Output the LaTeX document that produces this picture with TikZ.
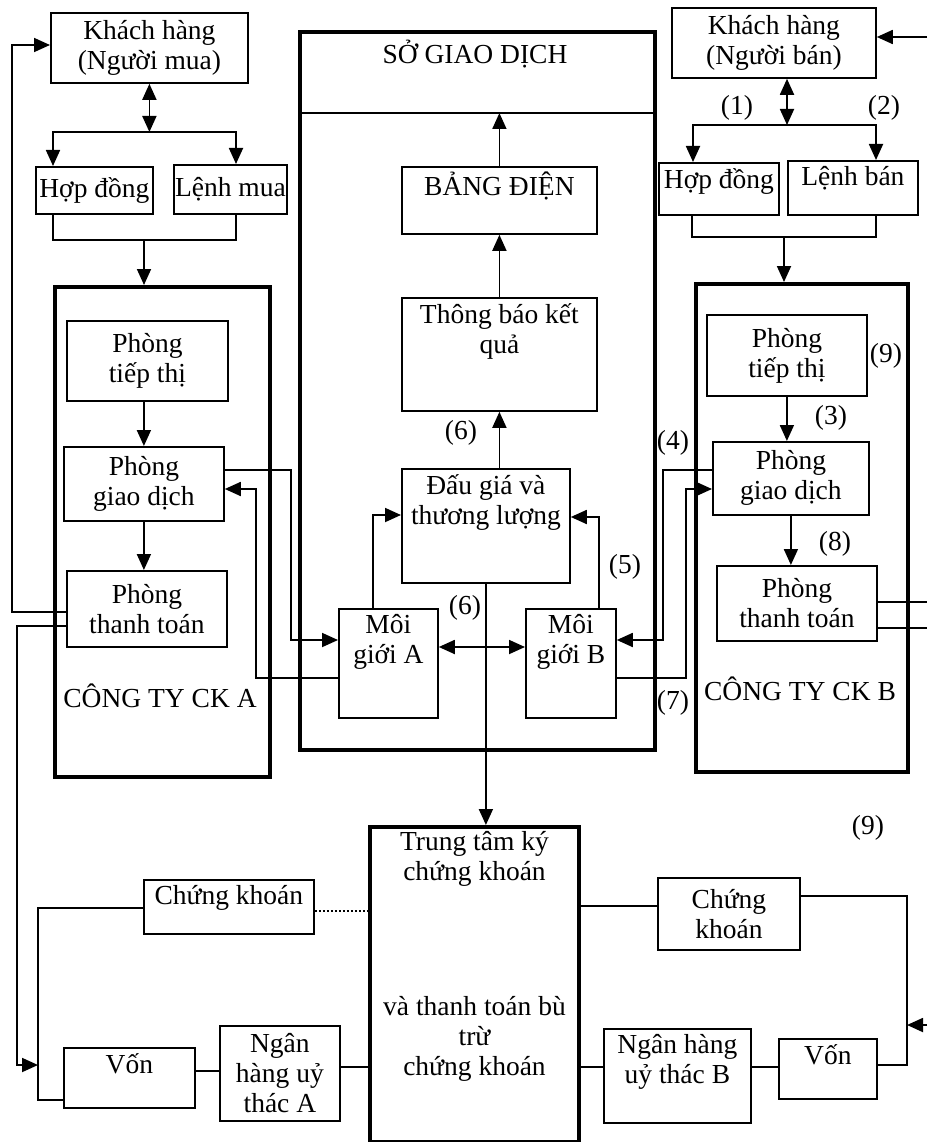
\documentclass[tikz,border=0pt]{standalone}
\usepackage{fontspec}
\setmainfont{Liberation Serif}
\usetikzlibrary{arrows.meta}
\tikzset{
  every node/.style = {font = \fontsize{27.5}{30}\selectfont}
}
\tikzset{
    >={Triangle[length=16pt,width=14pt]}
}
\tikzset{
  link/.style = {line width=1.8pt},
  box/.style = {draw, line width=1.8pt, align=center, anchor=north west, inner sep=0pt},
  panel/.style = {draw, line width=4pt, anchor=north west, inner sep=0pt},
  dims/.style 2 args = {minimum width=#1pt, minimum height=#2pt},
  toptext/.style = {label={[anchor=north, align=center, inner sep=6pt]north:#1}}
}

\begin{document}
\begin{tikzpicture}[x=1pt, y=-1pt]
  \useasboundingbox (0,0) rectangle (927,1142);

  % Buyer side
  \node[box, dims={197}{70}] (custA) at (50,12) {Khách hàng\\(Người mua)};
  \node[box, dims={117}{47}] (contractA) at (35,166) {Hợp đồng};
  \node[box, dims={113}{49}] (orderA) at (173,164) {Lệnh mua};
  \node[panel, dims={215}{490}] (firmA) at (53,285) {};
  \node[box, dims={161}{80}] (mktA) at (66,320) {Phòng\\tiếp thị};
  \node[box, dims={160}{74}] (pgdA) at (63,446) {Phòng\\giao dịch};
  \node[box, dims={160}{76}] (pttA) at (66,570) {Phòng\\thanh toán};
  \node (firmAname) at (160,696) {CÔNG TY CK A};

  % Exchange
  \node[panel, dims={355}{718}] (sgd) at (298,30) {};
  \node (sgdname) at (475,54) {SỞ GIAO DỊCH};
  \node[box, dims={195}{67}, toptext={BẢNG ĐIỆN}] (board) at (401,166) {};
  \node[box, dims={195}{113}, toptext={Thông báo kết\\quả}] (result) at (401,297) {};
  \node[box, dims={168}{114}, toptext={Đấu giá và\\thương lượng}] (auction) at (401,468) {};
  \node[box, dims={99}{109}, toptext={Môi\\giới A}] (brokerA) at (338,608) {};
  \node[box, dims={90}{109}, toptext={Môi\\giới B}] (brokerB) at (525,608) {};

  % Seller side
  \node[box, dims={204}{70}] (custB) at (671,7) {Khách hàng\\(Người bán)};
  \node[box, dims={120}{52}, toptext={Hợp đồng}] (contractB) at (658,162) {};
  \node[box, dims={130}{54}, toptext={Lệnh bán}] (orderB) at (787,160) {};
  \node[panel, dims={212}{488}] (firmB) at (694,282) {};
  \node[box, dims={160}{81}] (mktB) at (706,314) {Phòng\\tiếp thị};
  \node[box, dims={156}{73}] (pgdB) at (712,441) {Phòng\\giao dịch};
  \node[box, dims={160}{75}] (pttB) at (716,565) {Phòng\\thanh toán};
  \node (firmBname) at (800,689) {CÔNG TY CK B};

  % Clearing and banks
  \node[panel, dims={209}{315}, toptext={Trung tâm ký\\chứng khoán\\[105pt]và thanh toán bù\\trừ\\chứng khoán}] (clear) at (368,825) {};
  \node[box, dims={170}{54}, toptext={Chứng khoán}] (secA) at (143,879) {};
  \node[box, dims={131}{60}, toptext={Vốn}] (capA) at (63,1047) {};
  \node[box, dims={120}{95}] (bankA) at (219,1025) {Ngân\\hàng uỷ\\thác A};
  \node[box, dims={142}{72}] (secB) at (657,877) {Chứng\\khoán};
  \node[box, dims={147}{94}, toptext={Ngân hàng\\uỷ thác B}] (bankB) at (603,1028) {};
  \node[box, dims={98}{60}, toptext={Vốn}] (capB) at (778,1038) {};

  % Step numbers
  \node (lbl1) at (737,108) {(1)};
  \node (lbl2) at (884,108) {(2)};
  \node (lbl9a) at (886,356) {(9)};
  \node (lbl3) at (831,418) {(3)};
  \node (lbl4) at (673,443) {(4)};
  \node (lbl8) at (835,544) {(8)};
  \node (lbl7) at (673,703) {(7)};
  \node (lbl5) at (625,567) {(5)};
  \node (lbl6a) at (461,433) {(6)};
  \node (lbl6b) at (465,608) {(6)};
  \node (lbl9b) at (868,828) {(9)};

  \coordinate (edgeT) at (927,37);
  \coordinate (edgeP1) at (927,602);
  \coordinate (edgeP2) at (927,628);
  \coordinate (edgeV) at (927,1025);
  \coordinate (joinA) at (38,1065);
  \coordinate (joinB) at (907,1025);

  % Buyer side links
  \draw[link,<->] (custA.south) -- (custA.south |- 0,132);
  \draw[link,<->] (contractA.north -| 53,0) |- (236,132) -- (orderA.north -| 236,0);
  \draw[link] (contractA.south -| 53,0) -- (53,240) -- (236,240) -- (orderA.south -| 236,0);
  \draw[link,->] (144,240) -- (firmA.north -| 144,0);
  \draw[link,->] (mktA.south -| pgdA.north) -- (pgdA.north);
  \draw[link,->] (pgdA.south) -- (pgdA.south |- pttA.north);
  \draw[link,->] (pttA.west |- 0,612) -| (12,45) -- (custA.west |- 0,45);
  \draw[link,->] (pttA.west |- 0,626) -| (17,1065) -- (joinA);

  % Exchange links
  \draw[link] (sgd.west |- 0,113) -- (sgd.east |- 0,113);
  \draw[link,->] (board.north) -- (board.north |- 0,113);
  \draw[link,->] (result.north) -- (board.south);
  \draw[link,->] (auction.north -| result.north) -- (result.south);
  \draw[link,->] (auction.south) -- (auction.south |- clear.north);
  \draw[link,->] (brokerA.north -| 373,0) |- (auction.west |- 0,515);
  \draw[link,->] (brokerB.north -| 599,0) |- (auction.east |- 0,517);
  \draw[link,<->] (brokerA.east |- 0,647) -- (brokerB.west |- 0,647);
  \draw[link,->] (pgdA.east |- 0,470) -| (291,640) -- (brokerA.west |- 0,640);
  \draw[link,->] (brokerA.west |- 0,678) -| (256,489) -- (pgdA.east |- 0,489);
  \draw[link,->] (pgdB.west |- 0,470) -| (663,640) -- (brokerB.east |- 0,640);
  \draw[link,->] (brokerB.east |- 0,678) -| (686,489) -- (pgdB.west |- 0,489);

  % Seller side links
  \draw[link,->] (edgeT) -- (custB.east |- edgeT);
  \draw[link,<->] (custB.south -| 787,0) -- (787,125);
  \draw[link,<->] (contractB.north -| 693,0) |- (876,125) -- (orderB.north -| 876,0);
  \draw[link] (contractB.south -| 692,0) -- (692,237) -- (876,237) -- (orderB.south -| 876,0);
  \draw[link,->] (784,237) -- (firmB.north -| 784,0);
  \draw[link,->] (mktB.south) -- (mktB.south |- pgdB.north);
  \draw[link,->] (pgdB.south) -- (pgdB.south |- pttB.north);
  \draw[link] (pttB.east |- edgeP1) -- (edgeP1);
  \draw[link] (pttB.east |- edgeP2) -- (edgeP2);

  % Settlement links
  \draw[link] (secA.west |- 0,908) -| (38,1100) -- (capA.west |- 0,1100);
  \draw[link, dash pattern=on 2pt off 2pt] (secA.east |- 0,911) -- (clear.west |- 0,911);
  \draw[link] (capA.east |- 0,1071) -- (bankA.west |- 0,1071);
  \draw[link] (bankA.east |- 0,1067) -- (clear.west |- 0,1067);
  \draw[link] (clear.east |- 0,906) -- (secB.west |- 0,906);
  \draw[link] (clear.east |- 0,1067) -- (bankB.west |- 0,1067);
  \draw[link] (bankB.east |- 0,1067) -- (capB.west |- 0,1067);
  \draw[link] (secB.east |- 0,896) -| (907,1065) -- (capB.east |- 0,1065);
  \draw[link,->] (edgeV) -- (joinB);
\end{tikzpicture}
\end{document}
